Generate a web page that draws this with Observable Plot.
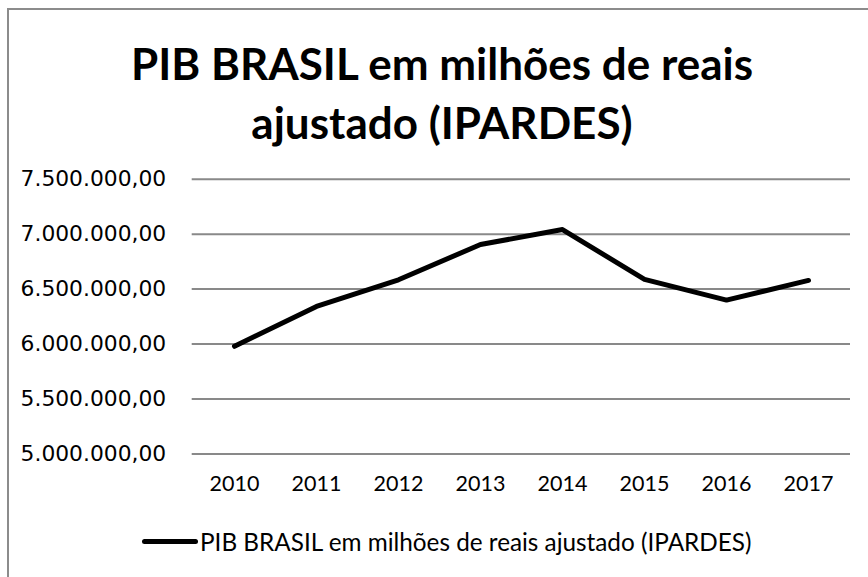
<!DOCTYPE html>
<html><head><meta charset="utf-8">
<script src="https://cdn.jsdelivr.net/npm/d3@7"></script>
<script src="https://cdn.jsdelivr.net/npm/@observablehq/plot@0.6"></script>
<style>
html,body{margin:0;padding:0;background:#fff;}
#fig{position:relative;width:868px;height:577px;overflow:hidden;background:#fff;}
#frame{position:absolute;left:7px;top:8px;width:900px;height:600px;border-left:2px solid #8c8c8c;border-top:2px solid #8c8c8c;box-sizing:border-box;}
#title{position:absolute;left:0;width:884px;top:34px;text-align:center;font-family:Lato,sans-serif;font-weight:bold;font-size:44px;line-height:59px;color:#000;}
#legend{position:absolute;left:142px;top:527px;font-family:Lato,sans-serif;font-size:24.3px;color:#000;display:flex;align-items:center;white-space:nowrap;}
#legend .sw{display:inline-block;width:56px;height:5px;background:#000;border-radius:3px;margin-right:2px;}
#chart{position:absolute;left:0;top:0;}
</style></head>
<body>
<div id="fig">
  <div id="frame"></div>
  <div id="chart"></div>
  <div id="title">PIB BRASIL em milhões de reais<br>ajustado (IPARDES)</div>
  <div id="legend"><span class="sw"></span><span>PIB BRASIL em milhões de reais ajustado (IPARDES)</span></div>
</div>
<script>
const years = ["2010","2011","2012","2013","2014","2015","2016","2017"];
const pib = [5980000, 6343000, 6585000, 6906000, 7042000, 6588000, 6400000, 6579000];
const yTicks = [5000000, 5500000, 6000000, 6500000, 7000000, 7500000];
const seriesName = "PIB BRASIL em milhões de reais ajustado (IPARDES)";

const data = years.map((y, i) => ({year: y, value: pib[i]}));
const br = d3.formatLocale({decimal: ",", thousands: ".", grouping: [3], currency: ["R$", ""]});
const fmt = br.format(",.2f");

const chart = Plot.plot({
  width: 868,
  height: 500,
  marginTop: 178.7,
  marginBottom: 46.5,
  marginLeft: 191.7,
  marginRight: 18,
  style: {background: "transparent", overflow: "visible"},
  x: {type: "point", domain: years, padding: 0.5, label: null},
  y: {domain: [5000000, 7500000], label: null},
  marks: [
    Plot.ruleY(yTicks, {stroke: "#898989", strokeWidth: 2}),
    Plot.axisY({ticks: yTicks, tickFormat: fmt, tickSize: 0, tickPadding: 26, fontSize: 21.8, fontFamily: "DejaVu Sans", fill: "#000", label: null}),
    Plot.axisX({tickSize: 0, tickPadding: 22, fontSize: 21.5, fontFamily: "Lato", fill: "#000", label: null}),
    Plot.line(data, {x: "year", y: "value", stroke: "#000", strokeWidth: 5, strokeLinejoin: "round", strokeLinecap: "round"})
  ]
});
document.getElementById("chart").appendChild(chart);
</script>
</body></html>
